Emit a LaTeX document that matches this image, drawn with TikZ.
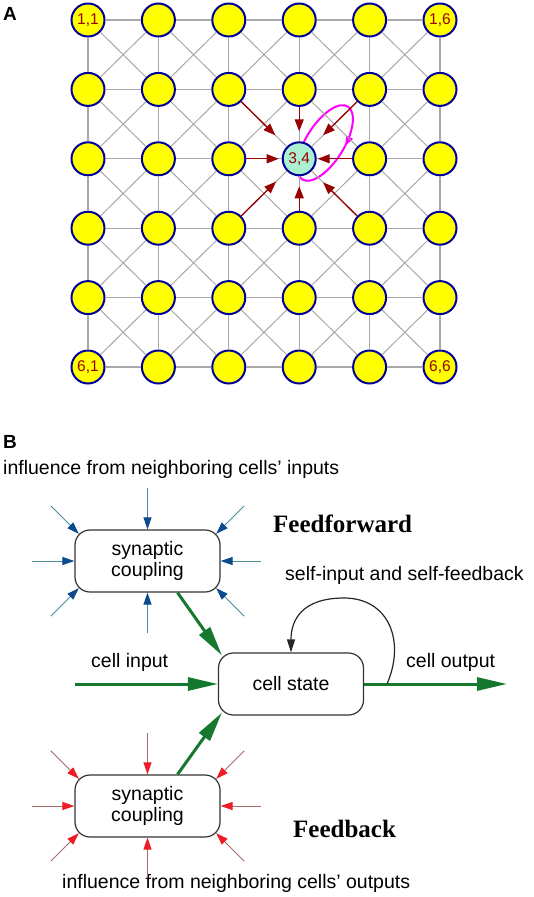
\documentclass[tikz,border=0pt]{standalone}
\usepackage{fontspec}
\setmainfont{Liberation Sans}
\newfontfamily\headfont{Liberation Serif}
\usetikzlibrary{arrows.meta,calc,decorations.markings}

\definecolor{cellyellow}{HTML}{FFFF00}
\definecolor{cellrim}{HTML}{000099}
\definecolor{cellmint}{HTML}{AAF0D1}
\definecolor{gridgray}{HTML}{A8A8A8}
\definecolor{linkred}{HTML}{990000}
\definecolor{loopmagenta}{HTML}{FF00FF}
\definecolor{ffline}{HTML}{4A8A9A}
\definecolor{ffhead}{HTML}{0B4A8F}
\definecolor{fbline}{HTML}{A86A6A}
\definecolor{fbhead}{HTML}{EE1C24}
\definecolor{flowgreen}{HTML}{14792E}

\tikzset{
	unit/.style={circle, draw=cellrim, line width=2pt, minimum size=33pt, inner sep=0pt, text=linkred, font=\fontsize{15.5}{16}\selectfont},
	link/.style={draw=gridgray, line width=1.2pt},
	pull/.style={draw=linkred, line width=1.3pt, -{Triangle[length=12pt,width=9pt]}},
	block/.style={draw=black!80, line width=1.2pt, rounded corners=15pt, minimum width=145pt, minimum height=62pt, align=center, font=\fontsize{19.5}{21}\selectfont},
	ffarrow/.style={draw=ffline, line width=1pt, -{Triangle[length=12pt,width=8pt,color=ffhead]}},
	fbarrow/.style={draw=fbline, line width=1pt, -{Triangle[length=12pt,width=8pt,color=fbhead]}},
	greenflow/.style={draw=flowgreen, line width=3pt, -{Triangle[length=30pt,width=13pt]}},
	selfloop/.style={draw=black!85, line width=1.2pt, -{Triangle[length=13pt,width=8pt]}},
	txt/.style={inner sep=0pt, anchor=base west, font=\fontsize{19.5}{21}\selectfont},
	heading/.style={inner sep=0pt, anchor=base west, font=\headfont\bfseries\fontsize{25}{27}\selectfont},
	panel/.style={inner sep=0pt, anchor=base west, font=\bfseries\fontsize{19}{20}\selectfont}
}

\begin{document}
\begin{tikzpicture}[x=1pt, y=-1pt]
		%%%%% START %%%%%
		\useasboundingbox (0,0) rectangle (533,897);
		
		\node[panel] (pa) at (3,20) {A};
		\node[panel] (pb) at (3,448) {B};
		
		\draw[loopmagenta, line width=2pt, rotate around={58:(325,143)},
			postaction={decorate, decoration={markings, mark=at position 0.21 with {\arrow{Triangle[length=10pt,width=7pt]}}}}]
			(325,143) ellipse [x radius=43, y radius=19];
		
		\foreach \r in {1,...,6}{
			\foreach \c in {1,...,6}{
				\pgfmathparse{and(\r==3,\c==4) ? "cellmint" : "cellyellow"}
				\let\tone\pgfmathresult
				\pgfmathparse{or(and(or(\r==1,\r==6),or(\c==1,\c==6)),and(\r==3,\c==4)) ? 1 : 0}
				\ifnum\pgfmathresult=1 \def\lbl{\r,\c}\else\def\lbl{}\fi
				\node[unit, fill=\tone] (c\r\c) at ({88+70.4*(\c-1)}, {20+69.4*(\r-1)}) {\lbl};
			}
		}
		
		\foreach \r in {1,...,6}{
			\foreach \c [evaluate=\c as \cn using int(\c+1)] in {1,...,5}{
				\draw[link] (c\r\c) -- (c\r\cn);
			}
		}
		\foreach \r [evaluate=\r as \rn using int(\r+1)] in {1,...,5}{
			\foreach \c in {1,...,6}{
				\draw[link] (c\r\c) -- (c\rn\c);
			}
		}
		\foreach \r [evaluate=\r as \rn using int(\r+1)] in {1,...,5}{
			\foreach \c [evaluate=\c as \cn using int(\c+1)] in {1,...,5}{
				\draw[link, line width=1pt] (c\r\c) -- (c\rn\cn);
				\draw[link, line width=1pt] (c\r\cn) -- (c\rn\c);
			}
		}
		
		\foreach \n/\sh in {24/10, 44/10, 33/3, 35/1, 23/16, 25/16, 43/15, 45/16}{
			\draw[pull, shorten >=\sh pt] (c\n) -- (c34);
		}
		
		\node[txt] (ffnote) at (3,474) {influence from neighboring cells’ inputs};
		\node[txt] (fbnote) at (62,888) {influence from neighboring cells’ outputs};
		\node[heading] (fftitle) at (273,532) {Feedforward};
		\node[heading] (fbtitle) at (293,837) {Feedback};
		\node[txt] (selfnote) at (285,580) {self-input and self-feedback};
		\node[txt] (outnote) at (406,667) {cell output};
		\node[txt] (innote) at (91,667) {cell input};
		
		\node[block] (ff) at (147.5,561) {synaptic\\coupling};
		\node[block] (fb) at (147.5,806) {synaptic\\coupling};
		\node[block] (state) at (291,684) {cell state};
		
		\foreach \b/\s in {ff/ffarrow, fb/fbarrow}{
			\foreach \a/\v in {north/{0,-41}, south/{0,40}, west/{-42,0}, east/{40,0}}{
				\draw[\s] ($(\b.\a)+(\v)$) -- (\b.\a);
			}
			\foreach \a/\sx/\sy in {north west/1/1, north east/-1/1, south west/1/-1, south east/-1/-1}{
				\draw[\s] ($(\b.\a)+({-23.6*\sx},{-23.6*\sy})$) -- ($(\b.\a)+({4.4*\sx},{4.4*\sy})$);
			}
		}
		
		\coordinate (cin) at (75,684);
		\coordinate (cout) at (507,684);
		\coordinate (selfin) at (387,684);
		\draw[greenflow] (cin) -- (state.west);
		\draw[greenflow] (state.east) -- (cout);
		\draw[greenflow] ([xshift=30pt]ff.south) -- ($(state.north west)+(4,3)$);
		\draw[greenflow] ([xshift=30pt]fb.north) -- ($(state.south west)+(4,-3)$);
		\draw[selfloop] (selfin) .. controls (406,640) and (388,598) .. (344,598) .. controls (302,598) and (291,620) .. (state.north);
		
		%%%%% END %%%%%
\end{tikzpicture}
\end{document}
